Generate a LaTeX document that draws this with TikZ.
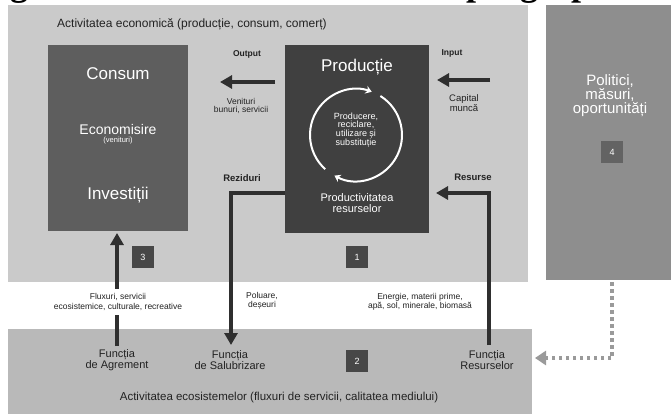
\documentclass[tikz,border=0pt]{standalone}
\usepackage{fontspec}
\setmainfont{Liberation Sans}
\newfontfamily\capfont{Liberation Serif}
\usetikzlibrary{arrows.meta,calc}
\definecolor{panelA}{HTML}{CACACA}
\definecolor{panelB}{HTML}{B9B9B9}
\definecolor{panelC}{HTML}{8E8E8E}
\definecolor{consc}{HTML}{5E5E5E}
\definecolor{prodc}{HTML}{404040}
\definecolor{badgec}{HTML}{474747}
\definecolor{flowc}{HTML}{2F2F2F}
\definecolor{dotc}{HTML}{9A9A9A}
\definecolor{labelc}{HTML}{222222}
\newcommand{\fs}[2]{\fontsize{#1}{#2}\selectfont}
\begin{document}
\begin{tikzpicture}[x=1pt,y=-1pt,
  panelnode/.style={anchor=north west, inner sep=0, outer sep=0},
  wtext/.style={text=white, align=center, inner sep=0},
  ltext/.style={text=labelc, align=center, inner sep=0},
  badge/.style={fill=badgec, text=white, minimum size=22pt, inner sep=0, font=\fs{9}{9}},
  flow/.style={draw=flowc, line width=4.5pt, line join=miter, -{Triangle[length=12pt,width=13pt]}},
  dotflow/.style={draw=dotc, line width=3.5pt, dash pattern=on 3.5pt off 3.5pt, -{Triangle[length=11pt,width=14pt]}},
  circ/.style={draw=white, line width=2pt, -{Stealth[length=6pt,width=8pt]}}
]
\useasboundingbox (0,0) rectangle (671,414);
\fill[white] (0,0) rectangle (671,414);
% clipped caption line above
\begin{scope}
\clip (0,0) rectangle (671,5);
\node[anchor=base west, inner sep=0, font=\capfont\bfseries\fs{36}{36}] (capA) at (10,-4) {g};
\node[anchor=base west, inner sep=0, font=\capfont\bfseries\fs{36}{36}] (capB) at (466,-4) {p};
\node[anchor=base west, inner sep=0, font=\capfont\bfseries\fs{36}{36}] (capC) at (520,-4) {g};
\node[anchor=base west, inner sep=0, font=\capfont\bfseries\fs{36}{36}] (capD) at (571,-4) {p};
\end{scope}
% panels
\node[panelnode, fill=panelA, minimum width=520pt, minimum height=277pt] (econ) at (8,5) {};
\node[panelnode, fill=panelC, minimum width=125pt, minimum height=275pt] (pol) at (546,5) {};
\node[panelnode, fill=panelB, minimum width=524pt, minimum height=85pt] (env) at (8,329) {};
% titles
\node[ltext, anchor=west, font=\fs{12}{12}] (etitle) at (57,24) {Activitatea economică (producție, consum, comerț)};
\node[ltext, font=\fs{11.5}{11.5}] (envtitle) at (279,398) {Activitatea ecosistemelor (fluxuri de servicii, calitatea mediului)};
% consumption box
\node[panelnode, fill=consc, minimum width=140pt, minimum height=186pt] (cons) at (48,45) {};
\node[wtext, font=\fs{17}{17}] (tcons) at (118,74) {Consum};
\node[wtext, font=\fs{14}{14}] (tecon) at (118,129) {Economisire};
\node[wtext, font=\fs{7.5}{7.5}] (tecob) at (118,141) {(venituri)};
\node[wtext, font=\fs{17}{17}] (tinv) at (118,195) {Investiții};
% production box
\node[panelnode, fill=prodc, minimum width=144pt, minimum height=188pt] (prod) at (285,45) {};
\node[wtext, font=\fs{17}{17}] (tprod) at (357,67) {Producție};
\coordinate (cc) at (356,135);
\draw[circ] ($(cc)+(-58:46)$) arc[start angle=-58, end angle=118, radius=46];
\draw[circ] ($(cc)+(-228:46)$) arc[start angle=-228, end angle=-70, radius=46];
\node[wtext, font=\fs{9}{8.7}] (tcirc) at (356,130) {Producere,\\reciclare,\\utilizare și\\substituție};
\node[wtext, font=\fs{11}{10.5}] (tprodv) at (357,203) {Productivitatea\\resurselor};
% policy panel
\node[wtext, font=\fs{15}{14}] (tpol) at (610,96) {Politici,\\măsuri,\\oportunități};
% badges
\node[badge] (b1) at (357,257) {1};
\node[badge] (b2) at (357,361) {2};
\node[badge] (b3) at (143,257) {3};
\node[badge, fill=badgec!85!white] (b4) at (612,152) {4};
% output arrow
\coordinate (outA) at (275,82);
\coordinate (outB) at (220,82);
\draw[flow] (outA) -- (outB);
\node[ltext, font=\bfseries\fs{8.5}{8.5}] (loutput) at (247,54) {Output};
\node[ltext, font=\fs{8.5}{8.5}] (loutsub) at (241,106) {Venituri\\bunuri, servicii};
% input arrow
\coordinate (inA) at (490,80);
\coordinate (inB) at (437,80);
\draw[flow] (inA) -- (inB);
\node[ltext, font=\bfseries\fs{8.5}{8.5}] (linput) at (452,53) {Input};
\node[ltext, font=\fs{9.5}{9.5}] (linsub) at (464,103) {Capital\\muncă};
% residues
\coordinate (rzA) at (285,193);
\coordinate (rzB) at (231,193);
\coordinate (rzC) at (231,345);
\draw[flow] (rzA) -- (rzB) -- (rzC);
\node[ltext, font=\bfseries\fs{9.5}{9.5}] (lrez) at (242,178) {Reziduri};
% resources
\coordinate (rsA) at (489,345);
\coordinate (rsB) at (489,193);
\coordinate (rsC) at (436,193);
\draw[flow] (rsA) -- (rsB) -- (rsC);
\node[ltext, font=\bfseries\fs{9.5}{9.5}] (lres) at (473,177) {Resurse};
% amenity arrow
\coordinate (amA) at (117,346);
\coordinate (amB) at (117,233);
\draw[flow] (amA) -- (amB);
\node[ltext, fill=white, inner ysep=5pt, inner xsep=2pt, font=\fs{8.5}{9.5}] (lam) at (118,302) {Fluxuri, servicii\\ecosistemice, culturale, recreative};
\node[ltext, font=\fs{8.5}{9}] (lpol) at (262,301) {Poluare,\\deșeuri};
\node[ltext, font=\fs{8.5}{9.5}] (lmat) at (420,302) {Energie, materii prime,\\apă, sol, minerale, biomasă};
% function labels
\node[ltext, font=\fs{11}{11.5}] (fam) at (117,360) {Funcția\\de Agrement};
\node[ltext, font=\fs{11}{11.5}] (fsal) at (230,360) {Funcția\\de Salubrizare};
\node[ltext, font=\fs{11}{11.5}] (fres) at (487,360) {Funcția\\Resurselor};
% dotted policy arrow
\coordinate (pdA) at (612,282);
\coordinate (pdB) at (612,358);
\coordinate (pdC) at (535,358);
\draw[dotflow] (pdA) -- (pdB) -- (pdC);
\end{tikzpicture}
\end{document}
